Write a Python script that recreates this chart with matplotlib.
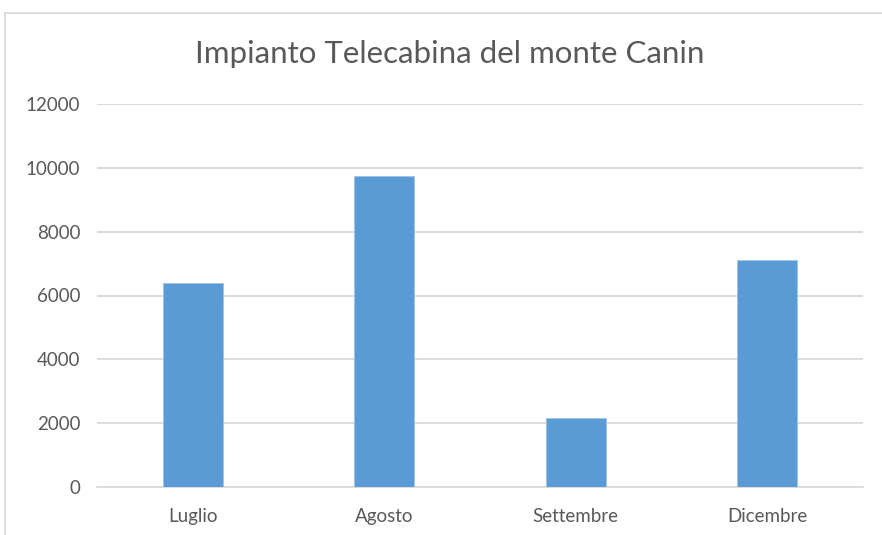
import matplotlib
matplotlib.use("Agg")
import matplotlib.pyplot as plt
from matplotlib.lines import Line2D

categories = ["Luglio", "Agosto", "Settembre", "Dicembre"]
values = [6400, 9750, 2150, 7110]
yticks = [0, 2000, 4000, 6000, 8000, 10000, 12000]

plt.rcParams['font.family'] = ['Lato', 'DejaVu Sans']

fig = plt.figure(figsize=(8.82, 5.35), dpi=100)
ax = fig.add_axes([97/882, 48/535, 766/882, 383/535])

x = list(range(len(categories)))
ax.bar(x, values, width=0.313, color="#5B9BD5", edgecolor="#9DC3E6", linewidth=0.6, zorder=3)
ax.set_xlim(-0.5, len(categories) - 0.5)
ax.set_ylim(0, 12000)
ax.set_yticks(yticks)
ax.set_yticklabels([str(t) for t in yticks])
ax.set_xticks(x)
ax.set_xticklabels(categories)
ax.grid(axis="y", color="#D9D9D9", linewidth=1.3, zorder=0)
for s in ["top", "right", "left"]:
    ax.spines[s].set_visible(False)
ax.spines["bottom"].set_color("#D9D9D9")
ax.spines["bottom"].set_linewidth(1.3)
ax.tick_params(axis="both", length=0, colors="#595959", labelsize=13.5)
ax.tick_params(axis="y", pad=12)
ax.tick_params(axis="x", pad=15)

fig.text(450/882, 1 - 54/535, "Impianto Telecabina del monte Canin", ha="center", va="center",
         fontsize=22.5, color="#595959")

# chart border
fig.add_artist(Line2D([5/882, 5/882], [0, 1 - 13/535], transform=fig.transFigure, color="#D9D9D9", linewidth=1.3))
fig.add_artist(Line2D([5/882, 1], [1 - 13/535, 1 - 13/535], transform=fig.transFigure, color="#D9D9D9", linewidth=1.3))

fig.savefig("out.png", dpi=100, facecolor="white")
